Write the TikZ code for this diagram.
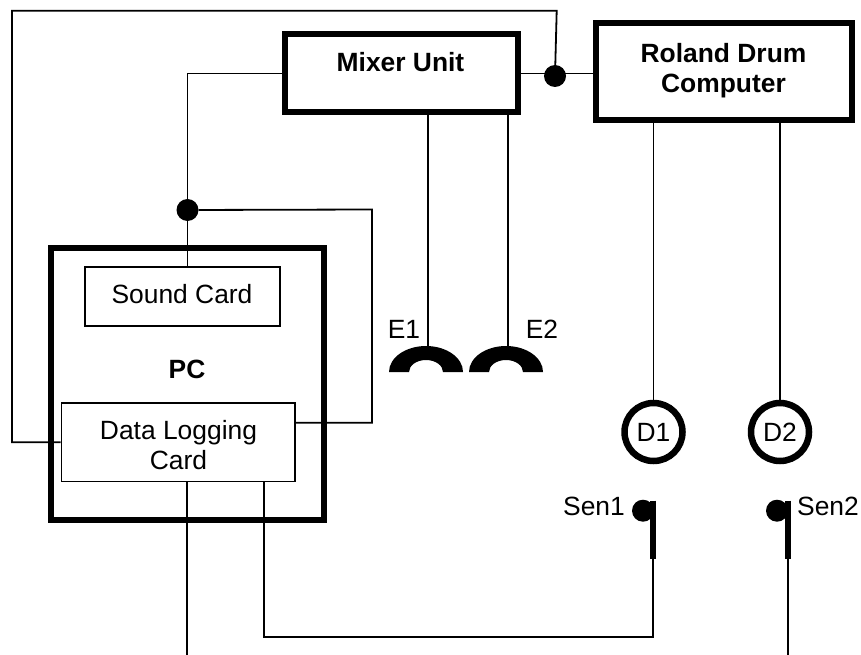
\documentclass[tikz,border=0pt]{standalone}
\usepackage{fontspec}
\setmainfont{Liberation Sans}
\begin{document}
\begin{tikzpicture}[
        x=1pt, y=-1pt,
        node font=\fontsize{26.4}{30}\selectfont,
        box/.style={rectangle, draw, line width=6pt, inner sep=0pt, align=center},
        card/.style={rectangle, draw, line width=1.8pt, inner sep=0pt, align=center},
        drum/.style={circle, draw, line width=6.5pt, inner sep=0pt, minimum size=58pt},
        dot/.style={circle, fill=black, inner sep=0pt, minimum size=22pt},
        wire/.style={line width=1.8pt},
        bar/.style={line width=6pt},
        title/.style={font=\fontsize{26.4}{30}\selectfont\bfseries, align=center},
        plain/.style={align=center}
    ]
        \useasboundingbox (0,0) rectangle (861,655);

        % Boxes
        \node[box, minimum width=233pt, minimum height=78pt] (mixer) at (401,73.5) {};
        \node[title] (mixerlabel) at (400.5,62) {Mixer Unit};
        \node[box, minimum width=256.5pt, minimum height=97pt] (roland) at (723.75,72) {};
        \node[title] (rolandlabel) at (723.5,70.5) {Roland Drum\\Computer};
        \node[box, minimum width=272.5pt, minimum height=272pt] (pc) at (187.25,384) {};
        \node[title] (pclabel) at (187,369) {PC};
        \node[card, minimum width=195pt, minimum height=59pt] (sound) at (182.5,296.5) {};
        \node[plain] (soundlabel) at (182,294.5) {Sound Card};
        \node[card, minimum width=233.5pt, minimum height=78.5pt] (data) at (178.25,442.25) {};
        \node[plain] (datalabel) at (178.5,445.5) {Data Logging\\Card};

        % Junctions
        \node[dot] (jpc) at (187.5,210) {};
        \node[dot] (jmix) at (555,76) {};

        % Drums
        \node[drum] (d1) at (653.5,432) {D1};
        \node[drum] (d2) at (780,432) {D2};

        % Free ends and corners
        \coordinate (e1) at (428,346);
        \coordinate (e2) at (508,346);
        \coordinate (topleft) at (12,10.7);
        \coordinate (topright) at (556.7,10.7);
        \coordinate (sideright) at (372,209.5);
        \coordinate (bus) at (264,637);
        \coordinate (out1) at (187,655);
        \coordinate (out2) at (788,655);
        \coordinate (sen1top) at (653.3,500.7);
        \coordinate (sen1foot) at (653.3,559);
        \coordinate (sen2top) at (788,500.7);
        \coordinate (sen2foot) at (788,559);

        % Earpieces
        \foreach \c in {389,469} {
            \fill (\c,372) arc[start angle=180, end angle=0, x radius=37pt, y radius=26pt]
                -- ++(-20,0) arc[start angle=0, end angle=180, x radius=17pt, y radius=12pt] -- cycle;
        }
        \node (e1label) at (404,329) {E1};
        \node (e2label) at (542,329) {E2};

        % Sensors
        \node[dot] (sen1ball) at (643,510.7) {};
        \node[dot] (sen2ball) at (777,510.7) {};
        \draw[bar] (sen1top) -- (sen1foot);
        \draw[bar] (sen2top) -- (sen2foot);
        \node (sen1label) at (594,506) {Sen1};
        \node (sen2label) at (828,506) {Sen2};

        % Mixer and drum computer wires
        \draw[wire] (mixer.east) -- (roland.west |- mixer.east);
        \draw[wire] (mixer.west) -| (jpc);
        \draw[wire] (e1 |- mixer.south) -- (e1);
        \draw[wire] ([yshift=4pt]e2 |- mixer.south) -- (e2);
        \draw[wire] (d1 |- roland.south) -- (d1);
        \draw[wire] (d2 |- roland.south) -- (d2);

        % Data card wires
        \draw[wire] (jpc) -- (jpc |- sound.north);
        \draw[wire] (jpc) -- (sideright) |- ([yshift=19.5pt]data.east);
        \draw[wire] (data.west) -| (topleft) -- (topright) -- (jmix);
        \draw[wire] (bus |- data.south) |- (sen1foot |- bus) -- (sen1foot);
        \draw[wire] (out1 |- data.south) -- (out1);
        \draw[wire] (sen2foot) -- (out2);
    \end{tikzpicture}
\end{document}
